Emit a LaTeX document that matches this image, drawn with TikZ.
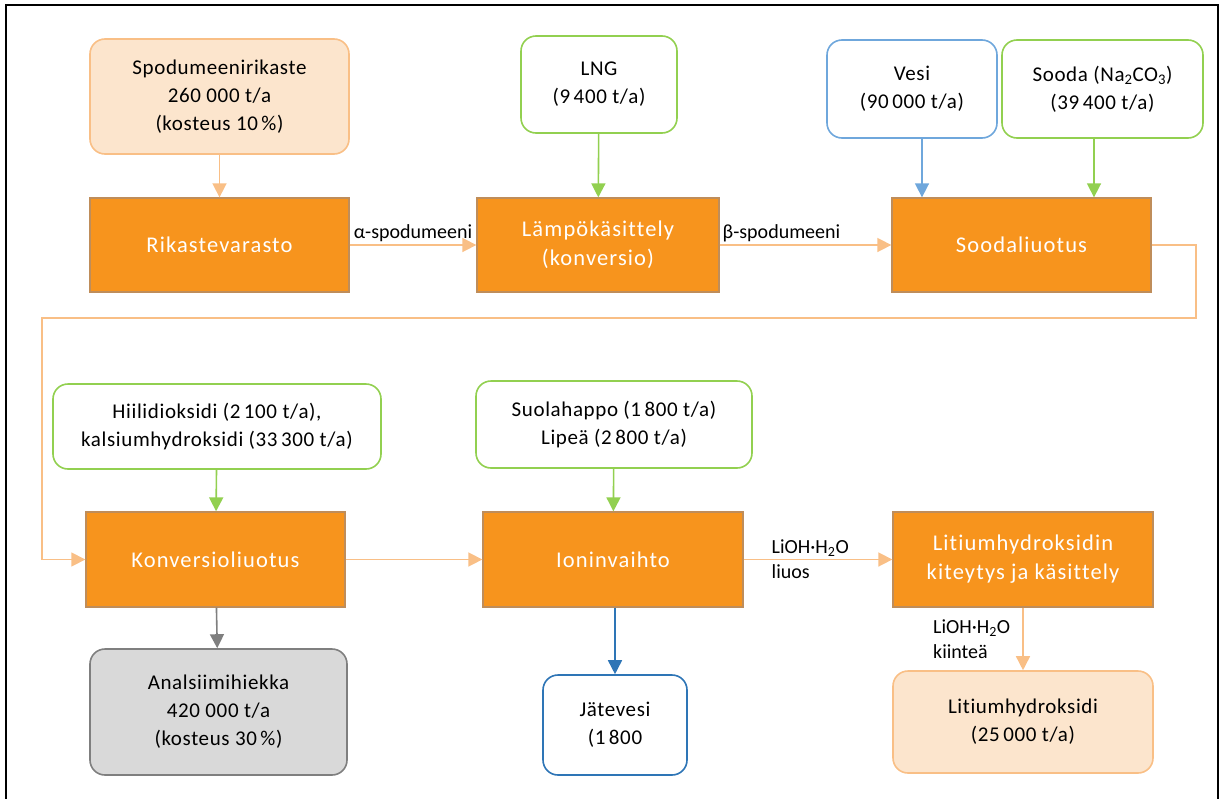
\documentclass[tikz,border=0pt]{standalone}
\usepackage{fontspec}
\setmainfont[RawFeature={-liga,-clig,-calt}]{Carlito}
\newfontfamily\boxfont[LetterSpace=3,RawFeature={-liga,-clig,-calt}]{Carlito}
\newfontfamily\procfont[LetterSpace=5,RawFeature={-liga,-clig,-calt}]{Carlito}
\usepackage{tikz}
\usetikzlibrary{arrows.meta,positioning}

\definecolor{procfill}{HTML}{F7941D}
\definecolor{procline}{HTML}{BF8D5A}
\definecolor{peachfill}{HTML}{FCE5CD}
\definecolor{peachline}{HTML}{F9BF86}
\definecolor{flow}{HTML}{F9BF86}
\definecolor{chem}{HTML}{92D050}
\definecolor{water}{HTML}{6FA7DC}
\definecolor{waste}{HTML}{2E75B6}
\definecolor{sandfill}{HTML}{D9D9D9}
\definecolor{sandline}{HTML}{7F7F7F}

\begin{document}
\begin{tikzpicture}[x=1pt,y=-1pt,->,>={Triangle[width=14pt,length=14pt]},line width=1.6pt,
  box/.style={rounded corners=15pt,align=center,inner sep=0pt,font=\boxfont\fontsize{21}{28}\selectfont},
  proc/.style={draw=procline,fill=procfill,text=white,line width=1.3pt,align=center,inner sep=0pt,font=\procfont\fontsize{22.5}{29}\selectfont},
  feed/.style={box,draw=chem,fill=white},
  prod/.style={box,draw=peachline,fill=peachfill},
  lbl/.style={text=black,font=\fontsize{20}{25}\selectfont,inner sep=2pt,align=left}]

\useasboundingbox (0,0) rectangle (1221,798);
\draw[-,line width=2.5pt,black] (6,800) -- (6,5) -- (1218,5) -- (1218,800);

% top row
\node[prod,minimum width=259pt,minimum height=115pt] (spod) at (219.5,96.5) {Spodumeenirikaste\\260 000 t/a\\(kosteus 10\,\%)};
\node[proc,minimum width=259pt,minimum height=94pt] (rik) at (219.5,245) {Rikastevarasto};
\node[feed,minimum width=156pt,minimum height=97pt] (lng) at (599,84.5) {LNG\\(9\,400 t/a)};
\node[proc,minimum width=242pt,minimum height=94pt] (lampo) at (598,245) {Lämpökäsittely\\(konversio)};
\node[box,draw=water,fill=white,minimum width=170pt,minimum height=98pt] (vesi) at (912,89) {Vesi\\(90\,000 t/a)};
\node[feed,minimum width=201pt,minimum height=98pt] (sooda) at (1102.5,89) {Sooda (Na\textsubscript{2}CO\textsubscript{3})\\(39\,400 t/a)};
\node[proc,minimum width=259pt,minimum height=94pt] (sood) at (1021.5,245) {Soodaliuotus};

% bottom row
\node[feed,minimum width=328pt,minimum height=85pt] (hiili) at (217,426.5) {Hiilidioksidi (2\,100 t/a),\\kalsiumhydroksidi (33\,300 t/a)};
\node[proc,minimum width=259pt,minimum height=95pt] (konv) at (215.5,559.5) {Konversioliuotus};
\node[box,draw=sandline,fill=sandfill,minimum width=257pt,minimum height=126pt] (anal) at (218.5,712) {Analsiimihiekka\\420 000 t/a\\(kosteus 30\,\%)};
\node[feed,minimum width=276pt,minimum height=87pt] (suola) at (614,424.5) {Suolahappo (1\,800 t/a)\\Lipeä (2\,800 t/a)};
\node[proc,minimum width=260pt,minimum height=95pt] (ioni) at (613,559.5) {Ioninvaihto};
\node[box,draw=waste,fill=white,minimum width=144pt,minimum height=100pt] (jate) at (615,725) {Jätevesi\\(1\,800};
\node[proc,minimum width=260pt,minimum height=95pt] (lioh) at (1023,559.5) {Litiumhydroksidin\\kiteytys ja käsittely};
\node[prod,minimum width=260pt,minimum height=102pt] (litium) at (1023,722) {Litiumhydroksidi\\(25\,000 t/a)};

\coordinate (r1) at (1196,318);
\coordinate (l1) at (42,318);

\draw[flow] (spod) -- (rik);
\draw[flow] (rik) -- node[lbl,above] {α-spodumeeni} (lampo);
\draw[chem] (lng) -- (lampo);
\draw[flow] (lampo) -- node[lbl,above,pos=0.36] {β-spodumeeni} (sood);
\draw[water] ([xshift=10pt]vesi.south) -- ([xshift=10pt]vesi.south |- sood.north);
\draw[chem] ([xshift=-8.5pt]sooda.south) -- ([xshift=-8.5pt]sooda.south |- sood.north);
\draw[flow,line width=1.3pt] (sood.east) -| (r1) -- (l1) |- (konv.west);

\draw[chem] (hiili) -- (konv);
\draw[sandline] (konv) -- (anal);
\draw[flow] (konv) -- (ioni);
\draw[chem] (suola) -- (ioni);
\draw[waste] ([xshift=2pt]ioni.south) -- ([xshift=2pt]ioni.south |- jate.north);
\draw[flow] (ioni) -- node[lbl,pos=0.17,anchor=west] {LiOH·H\textsubscript{2}O\\liuos} (lioh);
\draw[flow] (lioh) -- node[lbl,left=10pt] {LiOH·H\textsubscript{2}O\\kiinteä} (litium);
\end{tikzpicture}
\end{document}
